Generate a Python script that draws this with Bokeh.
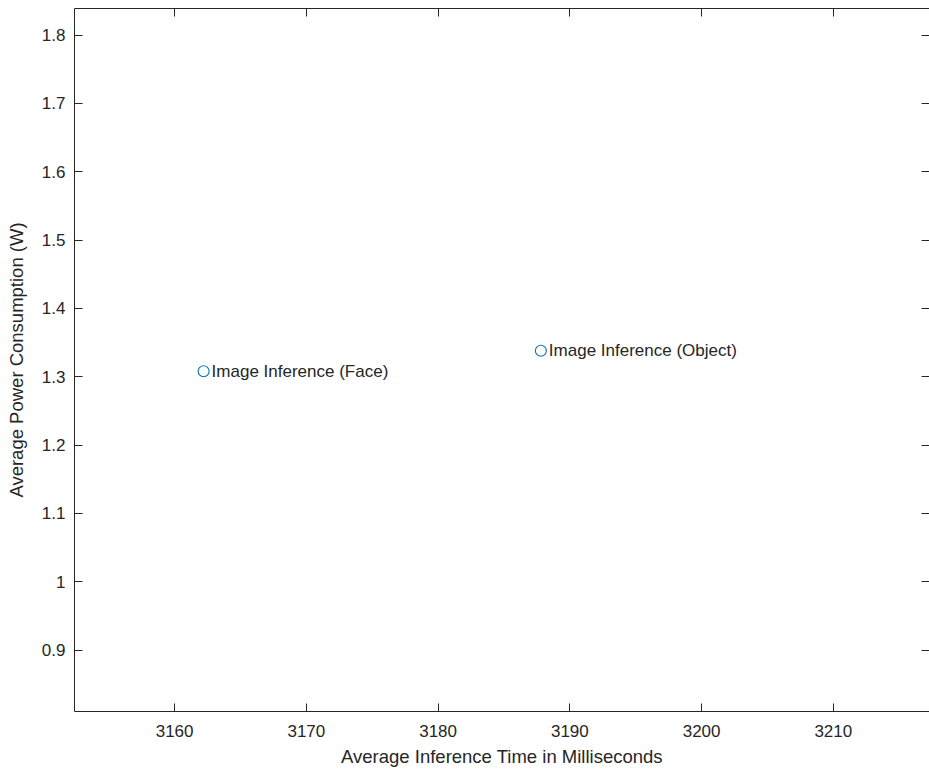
from bokeh.plotting import figure
from bokeh.models import (LinearAxis, FixedTicker, ColumnDataSource, Range1d,
                          CustomLabelingPolicy)
from bokeh.embed import file_html
from bokeh.resources import INLINE
from bokeh.core.properties import value

# Measured workloads: average inference time (ms) vs average power draw (W)
task_names = ["Image Inference (Face)", "Image Inference (Object)"]
inference_ms = [3162.2, 3187.8]
power_w = [1.308, 1.338]

x_ticks = [3160, 3170, 3180, 3190, 3200, 3210]
y_ticks = [0.9, 1.0, 1.1, 1.2, 1.3, 1.4, 1.5, 1.6, 1.7, 1.8]
y_tick_labels = {0.9: "0.9", 1.0: "1", 1.1: "1.1", 1.2: "1.2", 1.3: "1.3",
                 1.4: "1.4", 1.5: "1.5", 1.6: "1.6", 1.7: "1.7", 1.8: "1.8"}

FONT = "Liberation Sans"
INK = "#262626"
TICK_PX = "17px"

src = ColumnDataSource(dict(x=inference_ms, y=power_w, name=task_names))

p = figure(width=929, height=775, output_backend="svg", toolbar_location=None,
           x_range=Range1d(3152.4, 3217.3), y_range=Range1d(0.810, 1.839),
           min_border_left=74, min_border_right=0, min_border_top=8,
           min_border_bottom=64)
p.grid.visible = False
p.background_fill_color = "white"
p.border_fill_color = "white"
p.outline_line_color = None

# labelling policy that suppresses every tick label (used for the mirrored axes)
no_labels = CustomLabelingPolicy(code="""
    for (const i of indices) { indices.unset(i) }
    return indices
""")

def style_axis(ax, show_labels=True):
    ax.major_tick_in = 8
    ax.major_tick_out = 0
    ax.minor_tick_line_color = None
    ax.axis_line_color = INK
    ax.major_tick_line_color = INK
    ax.major_label_text_font = FONT
    ax.major_label_text_color = INK
    if show_labels:
        ax.major_label_text_font_size = TICK_PX
    else:
        ax.major_label_policy = no_labels
        ax.major_label_text_font_size = "0px"
        ax.major_label_standoff = 0

xa = p.xaxis[0]
xa.ticker = FixedTicker(ticks=x_ticks)
style_axis(xa)
xa.major_label_standoff = 13
xa.axis_label = "Average Inference Time in Milliseconds"
xa.axis_label_text_font = FONT
xa.axis_label_text_font_style = "normal"
xa.axis_label_text_font_size = "18.5px"
xa.axis_label_text_color = INK
xa.axis_label_standoff = 6

ya = p.yaxis[0]
ya.ticker = FixedTicker(ticks=y_ticks)
ya.major_label_overrides = y_tick_labels
style_axis(ya)
ya.major_label_standoff = 9
ya.axis_label = "Average Power Consumption (W)"
ya.axis_label_text_font = FONT
ya.axis_label_text_font_style = "normal"
ya.axis_label_text_font_size = "18.5px"
ya.axis_label_text_color = INK
ya.axis_label_standoff = 12

# mirrored inward ticks on the top and right edges of the box
top = LinearAxis(ticker=FixedTicker(ticks=x_ticks))
style_axis(top, show_labels=False)
p.add_layout(top, "above")
right = LinearAxis(ticker=FixedTicker(ticks=y_ticks))
style_axis(right, show_labels=False)
right.axis_line_color = None
p.add_layout(right, "right")

p.scatter("x", "y", source=src, marker="circle", size=11,
          fill_color=None, line_color="#0072BD", line_width=1.1)
p.text("x", "y", text="name", source=src, x_offset=8,
       text_font=value(FONT), text_font_size="17px", text_color=INK,
       text_align="left", text_baseline="middle")

open("out.html", "w").write(file_html(p, INLINE))
